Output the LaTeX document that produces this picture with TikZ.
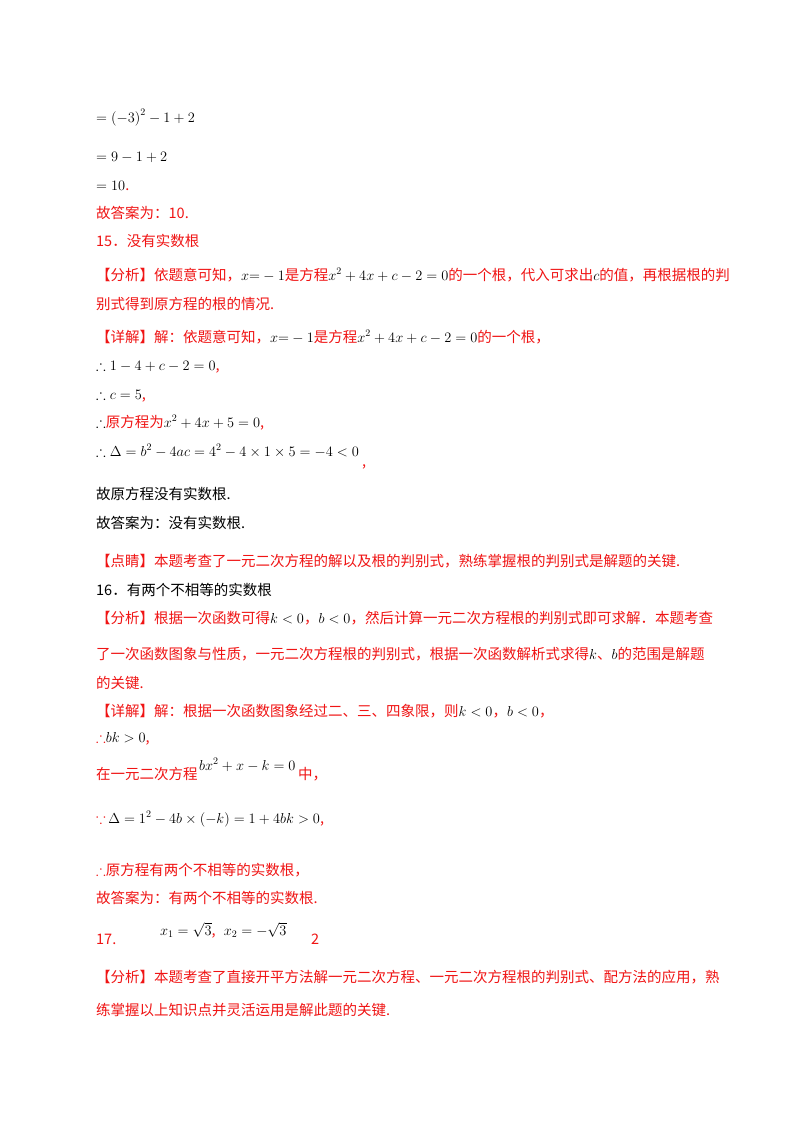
\documentclass[tikz,border=0pt]{standalone}
\usepackage{amsmath,amssymb}
\usepackage{fontspec}
\setmainfont{Noto Sans CJK SC}
\definecolor{rd}{RGB}{240,20,20}
\newcommand{\rr}[1]{\textcolor{rd}{#1}}
\begin{document}
\begin{tikzpicture}[x=1pt,y=-1pt,
  ln/.style={anchor=base west,inner sep=0pt,font=\fontsize{14.5}{17}\selectfont}]
\fill[white] (0,0) rectangle (800,1132);
\useasboundingbox (0,0) rectangle (800,1132);
\node[ln] (l1) at (96,122) {$=\left(-3\right)^2-1+2$};
\node[ln] (l2) at (96,161) {$=9-1+2$};
\node[ln] (l3) at (96,190) {$=10$\rr{.}};
\node[ln] (l4) at (96,218) {\rr{故答案为：10.}};
\node[ln] (l5) at (96,246) {\rr{15．没有实数根}};
\node[ln] (l6) at (96,280) {\rr{【分析】依题意可知，}$x{=}-1$\rr{是方程}$x^2+4x+c-2=0$\rr{的一个根，代入可求出}$c$\rr{的值，再根据根的判}};
\node[ln] (l7) at (96,309) {\rr{别式得到原方程的根的情况.}};
\node[ln] (l8) at (96,342) {\rr{【详解】解：依题意可知，}$x{=}-1$\rr{是方程}$x^2+4x+c-2=0$\rr{的一个根，}};
\node[ln] (l9) at (96,370) {$\therefore 1-4+c-2=0$\rr{,}};
\node[ln] (l10) at (96,399) {$\therefore c=5$\rr{,}};
\node[ln] (l11) at (96,427) {$\therefore$\rr{原方程为}$x^2+4x+5=0$\rr{,}};
\node[ln] (l12) at (96,456) {$\therefore \Delta=b^2-4ac=4^2-4\times1\times5=-4<0$};
\node[ln] (l12b) at (362,466) {\rr{,}};
\node[ln] (l13) at (96,499) {故原方程没有实数根.};
\node[ln] (l14) at (96,528) {故答案为：没有实数根.};
\node[ln] (l15) at (96,566) {\rr{【点睛】本题考查了一元二次方程的解以及根的判别式，熟练掌握根的判别式是解题的关键.}};
\node[ln] (l16) at (96,595) {16．有两个不相等的实数根};
\node[ln] (l17) at (96,623) {\rr{【分析】根据一次函数可得}$k<0$\rr{，}$b<0$\rr{，然后计算一元二次方程根的判别式即可求解．本题考查}};
\node[ln] (l18) at (96,659) {\rr{了一次函数图象与性质，一元二次方程根的判别式，根据一次函数解析式求得}$k$\rr{、}$b$\rr{的范围是解题}};
\node[ln] (l19) at (96,688) {\rr{的关键.}};
\node[ln] (l20) at (96,716) {\rr{【详解】解：根据一次函数图象经过二、三、四象限，则}$k<0$\rr{，}$b<0$\rr{，}};
\node[ln] (l21) at (96,742) {\rr{$\therefore$}$bk>0$\rr{,}};
\node[ln] (l22) at (96,779) {\rr{在一元二次方程}};
\node[ln] (l22m) at (199,770) {$bx^2+x-k=0$};
\node[ln] (l22e) at (298,779) {\rr{中，}};
\node[ln] (l23) at (96,823) {\rr{$\because$}\,$\Delta=1^2-4b\times\left(-k\right)=1+4bk>0$\rr{,}};
\node[ln] (l24) at (96,875) {\rr{$\therefore$原方程有两个不相等的实数根，}};
\node[ln] (l25) at (96,903) {\rr{故答案为：有两个不相等的实数根.}};
\node[ln] (l26) at (96,944) {\rr{17.}};
\node[ln] (l26m) at (160,935) {$x_1=\sqrt{3}$\rr{,}\;\;$x_2=-\sqrt{3}$};
\node[ln] (l26e) at (311,944) {\rr{2}};
\node[ln] (l27) at (96,982) {\rr{【分析】本题考查了直接开平方法解一元二次方程、一元二次方程根的判别式、配方法的应用，熟}};
\node[ln] (l28) at (96,1015) {\rr{练掌握以上知识点并灵活运用是解此题的关键.}};
\end{tikzpicture}
\end{document}
